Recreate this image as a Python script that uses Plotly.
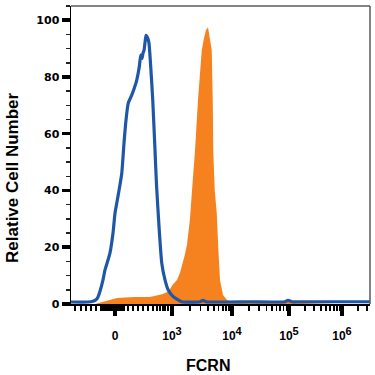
import numpy as np
import plotly.graph_objects as go

# ---- data (x in display channels of the biexponential axis, y in % of max) ----
blue_x = [0, 68, 88, 100, 108, 116, 128, 136, 148, 156, 168, 176, 184, 192, 203, 212, 220,
          229, 243, 253, 263, 273, 279, 284, 288, 292, 296, 300, 307, 312, 319, 327, 336,
          342, 353, 363, 376, 389, 409, 443, 516, 528, 540, 716, 856, 868, 884, 916, 1196]
blue_y = [0.7, 0.7, 1.0, 1.5, 2.5, 4.5, 8.5, 12, 15.5, 18, 25, 32, 36, 40, 46, 56.7, 64.8,
          70.8, 73.6, 76, 78.9, 83.5, 87.7, 86.5, 88.4, 89.4, 92, 94.7, 93.7, 91.9, 83.5, 71.8, 54.2,
          42, 26, 14.4, 8.5, 4.9, 2.6, 0.8, 0.8, 1.3, 0.8, 0.8, 0.8, 1.3, 0.8, 0.8, 0.8]

orange_x = [96, 128, 156, 184, 216, 256, 316, 344, 368, 384, 396, 408, 424, 436, 448, 456,
            464, 476, 484, 496, 508, 516, 523, 532, 540, 548, 554, 563, 567, 569, 575, 583,
            589, 596, 608, 624, 644, 756, 856, 876, 896, 1016, 1056]
orange_y = [0, 0.8, 1.4, 2.1, 2.3, 2.5, 2.5, 3.0, 3.5, 4.2, 5.3, 7, 8.5, 11, 14.5, 17.5,
            21, 30, 40, 54, 72, 82, 89.4, 93.7, 96.5, 97.5, 94.7, 89.4, 71.8, 54, 40, 32,
            20, 8.5, 3.2, 1.4, 0.7, 0.4, 0.5, 0.9, 0.4, 0.2, 0]

xtick_vals = [176, 404, 644, 872, 1084]
xtick_exps = [None, 3, 4, 5, 6]
xtick_text = ["0" if e is None else
              "10<sup><span style='font-size:11px'>%d</span></sup>" % e for e in xtick_exps]
ytick_vals = [0, 20, 40, 60, 80, 100]

# minor ticks of the display scale
linear_minor = [16, 40, 60, 80, 100, 120] + list(range(128, 216, 6)) + \
               [228, 248, 268, 288, 308, 328, 344, 356, 368, 376, 388]
decades = xtick_vals[1:] + [xtick_vals[-1] + (xtick_vals[-1] - xtick_vals[-2])]
log_minor = []
for i in range(len(decades) - 1):
    for k in range(2, 10):
        c = decades[i] + (decades[i + 1] - decades[i]) * np.log10(k)
        if c <= 1196:
            log_minor.append(float(c))
x_minor = linear_minor + log_minor

ORANGE = "#F5821F"
BLUE = "#1F57A8"

fig = go.Figure()
fig.add_trace(go.Scatter(x=orange_x, y=orange_y, mode="lines", fill="tozeroy",
                         fillcolor=ORANGE, line=dict(width=0, color=ORANGE),
                         hoverinfo="skip", showlegend=False))
fig.add_trace(go.Scatter(x=blue_x, y=blue_y, mode="lines",
                         line=dict(width=3.2, color=BLUE, shape="spline", smoothing=0.5),
                         hoverinfo="skip", showlegend=False))

fig.update_layout(
    width=375, height=375, autosize=False,
    margin=dict(l=71, r=5, t=6, b=71, autoexpand=False),
    paper_bgcolor="white", plot_bgcolor="white",
    showlegend=False,
    xaxis=dict(range=[0, 1196], showgrid=False, zeroline=False, automargin=False,
               showline=True, linecolor="black", linewidth=2,
               ticks="outside", ticklen=10, tickwidth=3.5, tickcolor="black",
               tickmode="array", tickvals=xtick_vals, ticktext=xtick_text,
               tickfont=dict(family="Liberation Sans", size=12, color="black", weight="bold"),
               ticklabelstandoff=10,
               minor=dict(tickmode="array", tickvals=x_minor, ticks="outside",
                          ticklen=5, tickwidth=1.6, tickcolor="black")),
    yaxis=dict(range=[0, 105], showgrid=False, zeroline=False, automargin=False,
               showline=True, linecolor="black", linewidth=1.5,
               ticks="outside", ticklen=8, tickwidth=3.5, tickcolor="black",
               tickmode="array", tickvals=ytick_vals,
               tickfont=dict(family="DejaVu Sans", size=11, color="black", weight="bold"),
               minor=dict(dtick=5, tick0=0, ticks="outside", ticklen=4,
                          tickwidth=1.5, tickcolor="#222222")),
    shapes=[
        dict(type="line", xref="paper", yref="paper", x0=0, x1=1, y0=1, y1=1,
             line=dict(color="#5a5a5a", width=1.5)),
        dict(type="line", xref="paper", yref="paper", x0=1, x1=1, y0=0, y1=1,
             line=dict(color="#5a5a5a", width=1.5)),
    ],
    annotations=[
        dict(text="<b>Relative Cell Number</b>", xref="paper", yref="paper",
             x=-0.194, y=0.423, textangle=-90, showarrow=False,
             xanchor="center", yanchor="middle",
             font=dict(family="Liberation Sans", size=17, color="black")),
        dict(text="<b>FCRN</b>", xref="paper", yref="paper",
             x=0.458, y=-0.205, showarrow=False,
             xanchor="center", yanchor="middle",
             font=dict(family="Liberation Sans", size=16, color="black")),
    ],
)

fig.write_html("out.html", config={"displayModeBar": False, "staticPlot": True},
               post_script="document.body.style.margin='0';document.body.style.overflow='hidden';")
